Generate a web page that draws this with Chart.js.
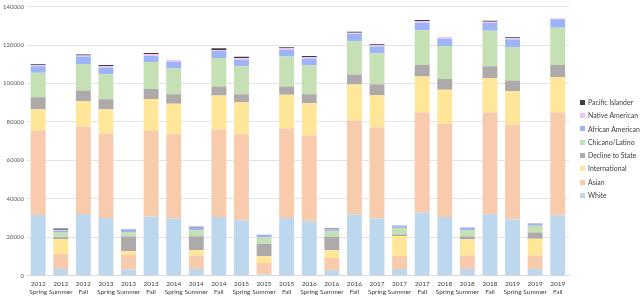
<!DOCTYPE html>
<html>
<head>
<meta charset="utf-8">
<script src="https://cdn.jsdelivr.net/npm/chart.js@4"></script>
<style>
  html, body { margin:0; padding:0; background:#fff; }
  #wrap { width:640px; height:298px; position:relative; }
  #legenda { position:absolute; left:580px; top:96px; font-family:Lato, sans-serif; font-size:6.9px; color:#404040; }
  #legenda div { height:13.3px; line-height:13.3px; white-space:nowrap; }
  #legenda span { display:inline-block; width:5px; height:5px; margin-right:3px; vertical-align:middle; position:relative; top:-1px; }
</style>
</head>
<body>
<div id="wrap"><canvas id="chart"></canvas><div id="legenda"></div></div>
<script>
// --- DATI ---
const terms = [
  ["2012","Spring"],["2012","Summer"],["2012","Fall"],
  ["2013","Spring"],["2013","Summer"],["2013","Fall"],
  ["2014","Spring"],["2014","Summer"],["2014","Fall"],
  ["2015","Spring"],["2015","Summer"],["2015","Fall"],
  ["2016","Spring"],["2016","Summer"],["2016","Fall"],
  ["2017","Spring"],["2017","Summer"],["2017","Fall"],
  ["2018","Spring"],["2018","Summer"],["2018","Fall"],
  ["2019","Spring"],["2019","Summer"],["2019","Fall"]
];

const white         = [31600,3550,32100,30100,3200,30800,29800,3550,30600,28900,700,30000,28400,2900,31800,29800,3550,32800,30600,3550,32000,29300,3550,31500];
const asian         = [44000,7800,45500,44000,7600,44800,43800,6800,45500,44700,5900,46700,44700,6300,48900,47400,6800,52100,48600,7100,52900,49400,7100,53400];
const international = [11000,7800,13200,12500,2000,16400,15900,3050,17600,16700,3700,17400,16600,4050,18800,16700,10300,18800,17600,8300,18000,17300,8600,18300];
const decline       = [6200,850,5600,5200,7600,5100,4900,7100,4700,4100,6400,4400,4700,6900,5200,5700,850,5900,5600,1500,6100,5600,3200,6400];
const chicano       = [12800,2700,13700,13000,2400,13900,13400,3200,14900,14600,3400,15700,15100,3050,17300,16100,3400,18100,17100,3400,18400,17400,3550,19400];
const african       = [3400,850,3900,3550,1200,3350,3550,1350,3550,3350,1200,3400,3550,700,3900,3550,850,3850,3750,1000,4050,3900,1000,4400];
const native        = [500,350,500,800,100,1000,700,100,500,850,100,800,650,300,500,650,100,1000,800,100,650,650,100,500];
const pacific       = [500,650,600,500,100,500,200,300,1000,650,100,500,650,350,500,500,100,500,100,100,500,500,100,100];

const yTicks = [0,20000,40000,60000,80000,100000,120000,140000];

const serie = [
  {label:"White",            data:white,         color:"#bdd7ee"},
  {label:"Asian",            data:asian,         color:"#f8cbad"},
  {label:"International",    data:international, color:"#ffe699"},
  {label:"Decline to State", data:decline,       color:"#aeaaaa"},
  {label:"Chicano/Latino",   data:chicano,       color:"#c5e0b4"},
  {label:"African American", data:african,       color:"#9db4f7"},
  {label:"Native American",  data:native,        color:"#f3c6f5"},
  {label:"Pacific Islander", data:pacific,       color:"#3f3f3f"}
];

// --- LEGENDA (ordine inverso) ---
const leg = document.getElementById("legenda");
serie.slice().reverse().forEach(s=>{
  const d = document.createElement("div");
  d.innerHTML = `<span style="background:${s.color}"></span>${s.label}`;
  leg.appendChild(d);
});

// --- GRAFICO ---
const ctx = document.getElementById("chart").getContext("2d");
new Chart(ctx,{
  type:'bar',
  data:{
    labels: terms,
    datasets: serie.map(s=>({
      label:s.label,
      data:s.data,
      backgroundColor:s.color,
      borderWidth:0,
      barPercentage:0.66,
      categoryPercentage:1
    }))
  },
  options:{
    responsive:true,
    maintainAspectRatio:false,
    animation:false,
    layout:{padding:{top:-2,left:0,right:71,bottom:-2}},
    plugins:{
      legend:{display:false},
      tooltip:{enabled:false}
    },
    scales:{
      x:{
        stacked:true,
        grid:{display:false, drawTicks:false},
        border:{color:"#d9d9d9"},
        ticks:{
          color:"#404040", padding:4, maxRotation:0, autoSkip:false,
          font:{family:"'Liberation Sans Narrow', Lato", size:6.5, lineHeight:1.25}
        }
      },
      y:{
        stacked:true,
        min:0, max:140000,
        afterBuildTicks: ax => { ax.ticks = yTicks.map(v=>({value:v})); },
        grid:{color:"#e3e3e3", drawTicks:false},
        border:{display:false},
        ticks:{
          color:"#595959", padding:3,
          font:{family:"Lato", size:6},
          callback:v=>String(v)
        }
      }
    }
  }
});
</script>
</body>
</html>
